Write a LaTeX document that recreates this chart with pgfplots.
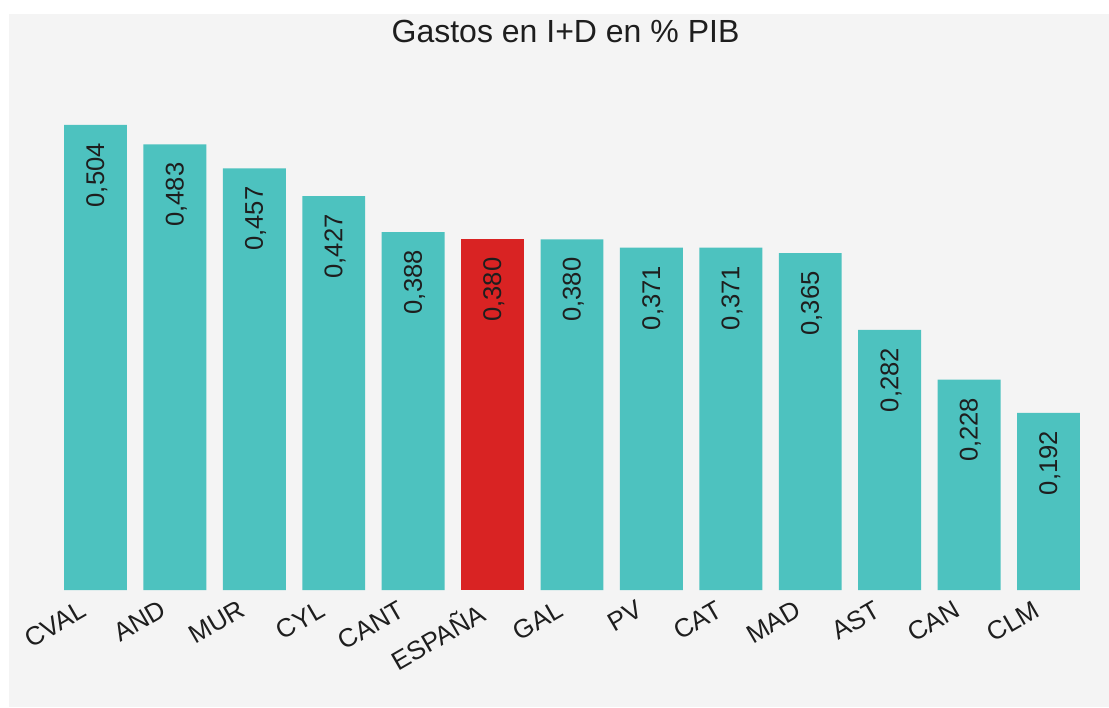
\documentclass[border=0pt]{standalone}
\usepackage{pgfplots}
\pgfplotsset{compat=1.18}
\usepackage{pgfplotstable}
\usepackage{fontspec}
\setmainfont{Liberation Sans}
\definecolor{tealbar}{RGB}{77,194,191}
\definecolor{redbar}{RGB}{217,35,35}
\definecolor{bggrey}{RGB}{244,244,244}
\definecolor{txt}{RGB}{30,30,30}

\pgfplotstableread{
x val lab
0 0.504 0,504
1 0.483 0,483
2 0.457 0,457
3 0.427 0,427
4 0.388 0,388
6 0.380 0,380
7 0.371 0,371
8 0.371 0,371
9 0.365 0,365
10 0.282 0,282
11 0.228 0,228
12 0.192 0,192
}\regiones

\pgfplotstableread{
x val lab
5 0.380 0,380
}\espana

\begin{document}
\begin{tikzpicture}[x=0.75pt,y=0.75pt]
\fill[white] (0,0) rectangle (1109,707);
\fill[bggrey] (9,0) rectangle (1109,693);
\node[anchor=base, font=\fontsize{24}{29}\selectfont, text=txt, inner sep=0pt] at (565.5,664) {Gastos en I+D en \% PIB};
\begin{axis}[
  at={(41.85pt,87.75pt)}, anchor=south west,
  scale only axis,
  width=774.3pt, height=380.6pt,
  xmin=-0.5, xmax=12.5, ymin=0, ymax=0.55,
  clip=false,
  axis line style={draw=none},
  major tick length=0pt,
  ytick=\empty,
  xtick={0,...,12},
  xticklabels={CVAL,AND,MUR,CYL,CANT,ESPAÑA,GAL,PV,CAT,MAD,AST,CAN,CLM},
  x tick label style={xshift=-12pt, yshift=-7pt, rotate=30, anchor=north east, inner sep=0pt,
    font=\fontsize{19.5}{23}\selectfont, text=txt},
  ybar, bar width=0.793, bar shift=0pt,
  point meta=explicit symbolic,
  nodes near coords,
  every node near coord/.style={yshift=-13.5pt, xshift=1pt, rotate=90, anchor=east, inner sep=0pt,
    font=\fontsize{19.2}{23}\selectfont, text=txt},
]
\addplot[fill=tealbar, draw=none] table[x=x, y=val, meta=lab] {\regiones};
\addplot[fill=redbar, draw=none] table[x=x, y=val, meta=lab] {\espana};
\end{axis}
\pgfresetboundingbox
\path (0,0) rectangle (1109,707);
\end{tikzpicture}
\end{document}
